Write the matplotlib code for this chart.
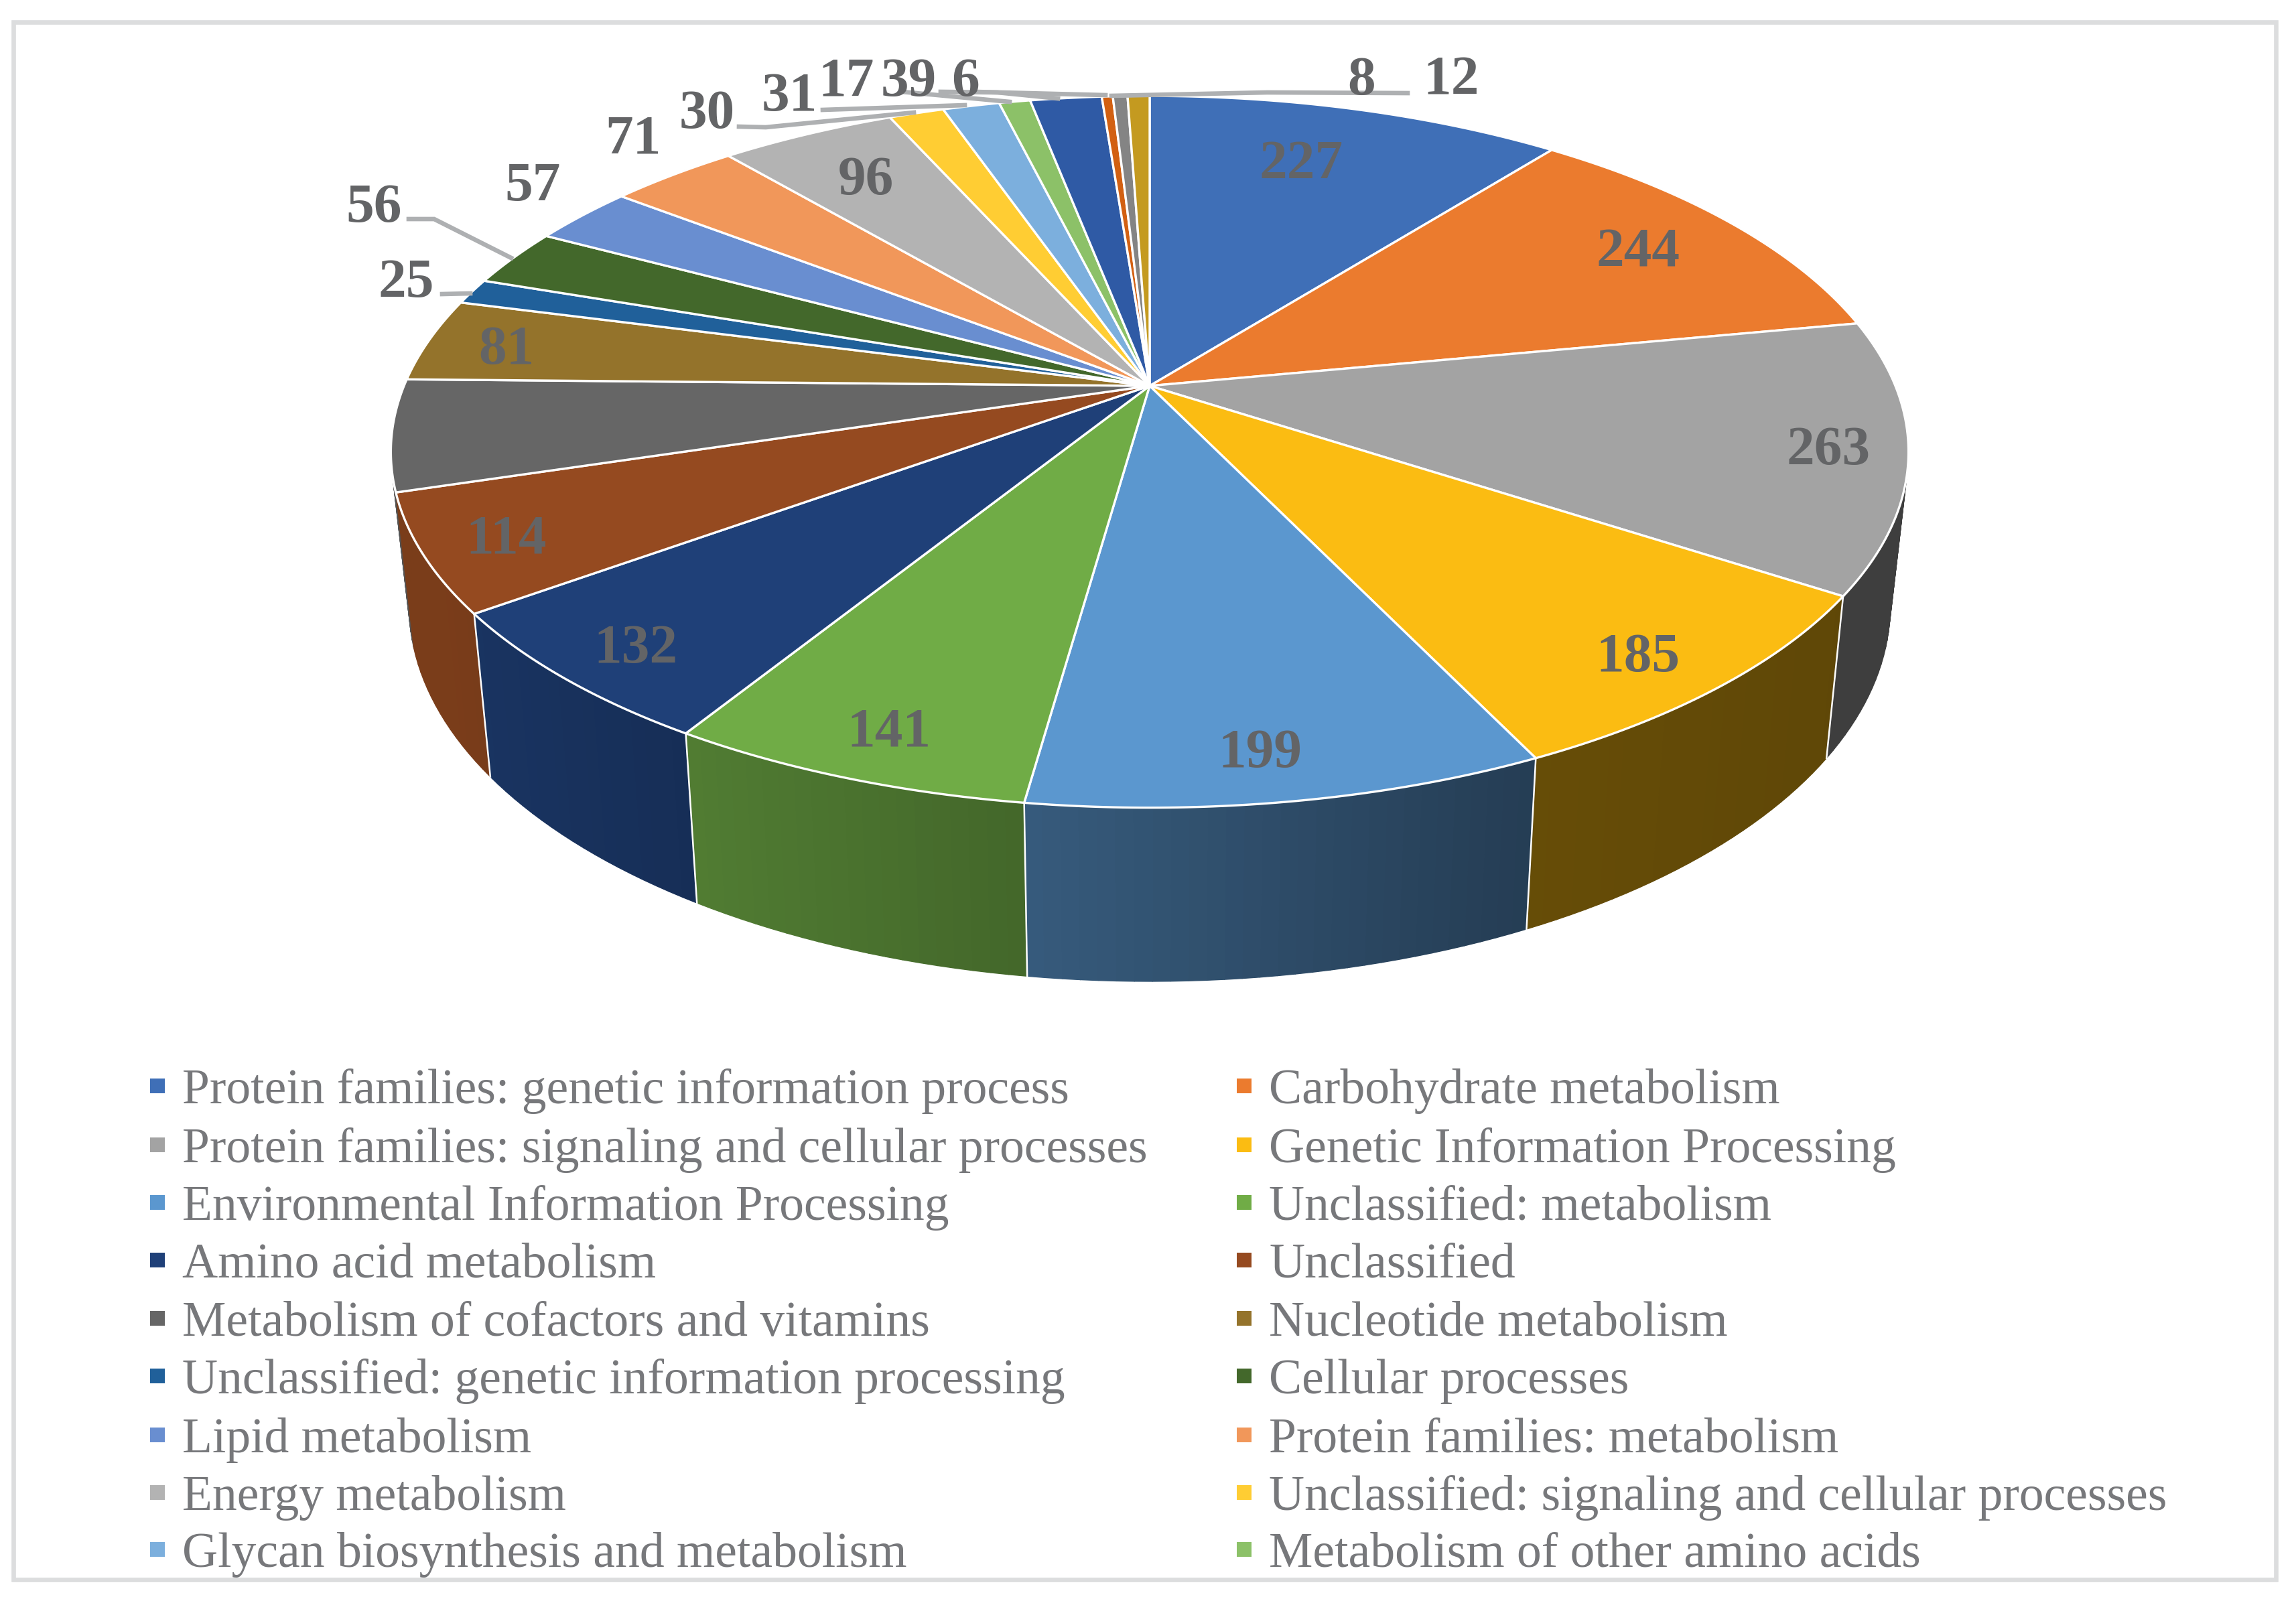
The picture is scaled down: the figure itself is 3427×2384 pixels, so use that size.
import numpy as np
import matplotlib
matplotlib.use("Agg")
import matplotlib.pyplot as plt
from matplotlib.patches import Rectangle

plt.rcParams['font.family'] = ['Liberation Serif', 'DejaVu Serif']

# --- data ---
legend_names = [
    "Protein families: genetic information process", "Carbohydrate metabolism",
    "Protein families: signaling and cellular processes", "Genetic Information Processing",
    "Environmental Information Processing", "Unclassified: metabolism",
    "Amino acid metabolism", "Unclassified",
    "Metabolism of cofactors and vitamins", "Nucleotide metabolism",
    "Unclassified: genetic information processing", "Cellular processes",
    "Lipid metabolism", "Protein families: metabolism",
    "Energy metabolism", "Unclassified: signaling and cellular processes",
    "Glycan biosynthesis and metabolism", "Metabolism of other amino acids",
]
# cofactors slice has no readable label, 108 is estimated from its angle
values = [227, 244, 263, 185, 199, 141, 132, 114, 108, 81, 25,
          56, 57, 71, 96, 30, 31, 17, 39, 6, 8, 12]
colors = ['#3F6FB7', '#EB7B2E', '#A3A3A3', '#FBBC12', '#5B97CF', '#70AC46',
          '#1F4078', '#954A20', '#666666', '#94732B', '#20609A', '#43682B',
          '#698ED0', '#F1975A', '#B3B3B3', '#FFCD33', '#7CAFDD', '#8CC168',
          '#2F5AA5', '#D26012', '#848484', '#C49A20']

# label centres in pixels, same order as values (None = no label)
label_xy = [(1942, 246), (2445, 378), (2729, 674), (2445, 982), (1881, 1125), (1327, 1094),
            (949, 969), (756, 806), None, (756, 523), (606, 424), (558, 312), (795, 279),
            (945, 209), (1292, 270), (1055, 171), (1178, 145), (1263, 123), (1356, 123),
            (1441, 123), (2032, 121), (2166, 121)]

# leader lines in pixels
leaders = [[(1103, 189), (1143, 190), (1364, 168)],
           [(1228, 164), (1440, 157)],
           [(1346, 137), (1507, 152)],
           [(1404, 137), (1489, 138), (1579, 147)],
           [(1454, 137), (1650, 142)],
           [(1659, 143), (1891, 138), (2101, 139)],
           [(610, 327), (648, 327), (763, 385)],
           [(660, 439), (702, 438)]]

legend_rows = [1621, 1709, 1795, 1881, 1968, 2054, 2142, 2228, 2313]

# pie geometry (perspective circle)
cx, cy = 1716, 576
R, B, k = 1113, 513, 0.1853


def rim(a):
    u, v = np.cos(a), np.sin(a)
    w = 1 + k * u
    return cx + R * v / w, cy - B * u / w


def rim_low(a):
    x, y = rim(a)
    return cx + (x - cx) * 0.976, y + 259 - 0.056 * (1200 - y)


def shade(hex_col, x):
    f = np.interp(x, [660, 1030, 1530, 2270, 2750], [0.82, 0.72, 0.6, 0.41, 0.38])
    rgb = np.array(matplotlib.colors.to_rgb(hex_col))
    return tuple(rgb * f)


fig = plt.figure(figsize=(34.27, 23.84), dpi=100)
ax = fig.add_axes([0, 0, 1, 1])
ax.set_xlim(0, 3427)
ax.set_ylim(2384, 0)
ax.axis('off')

ax.add_patch(Rectangle((19.5, 32.5), 3377, 2325, fill=False, ec='#dcddde', lw=4.8))

edges = np.cumsum([0] + values) / sum(values) * 2 * np.pi

# sides, strips from back to front
strips = []
for i, col in enumerate(colors):
    a0, a1 = edges[i], edges[i + 1]
    n = max(2, int((a1 - a0) / 0.02))
    aa = np.linspace(a0, a1, n + 1)
    for s0, s1 in zip(aa[:-1], aa[1:]):
        strips.append((s0, s1, col))
strips.sort(key=lambda t: rim((t[0] + t[1]) / 2)[1])
for s0, s1, col in strips:
    x0, y0 = rim(s0)
    x1, y1 = rim(s1)
    x2, y2 = rim_low(s1)
    x3, y3 = rim_low(s0)
    c = shade(col, (x0 + x1) / 2)
    ax.fill([x0, x1, x2, x3], [y0, y1, y2, y3], color=c, lw=1)

# white edges between the side faces
for a in edges:
    if np.radians(100) < a < np.radians(250):
        x0, y0 = rim(a)
        x1, y1 = rim_low(a)
        ax.plot([x0, x1], [y0, y1], color='white', lw=1.8)

# top face
for i, col in enumerate(colors):
    aa = np.linspace(edges[i], edges[i + 1], 60)
    xs, ys = rim(aa)
    ax.fill(np.r_[cx, xs], np.r_[cy, ys], facecolor=col, edgecolor='white', lw=2.4, joinstyle='round')

for pts in leaders:
    ax.plot([p[0] for p in pts], [p[1] for p in pts], color='#aeb0b2', lw=4.8, solid_joinstyle='miter')

for val, pos in zip(values, label_xy):
    if pos is not None:
        ax.text(pos[0], pos[1], str(val), fontsize=60, fontweight='bold', color='#636466',
                ha='center', va='center')

# legend
for i, name in enumerate(legend_names):
    row = legend_rows[i // 2]
    mx, tx = (224, 272) if i % 2 == 0 else (1846, 1894)
    ax.add_patch(Rectangle((mx, row - 11), 22, 22, color=colors[i], lw=0))
    ax.text(tx, row, name, fontsize=53, color='#77787b', ha='left', va='center_baseline')

fig.savefig('out.png', dpi=100, facecolor='white')
